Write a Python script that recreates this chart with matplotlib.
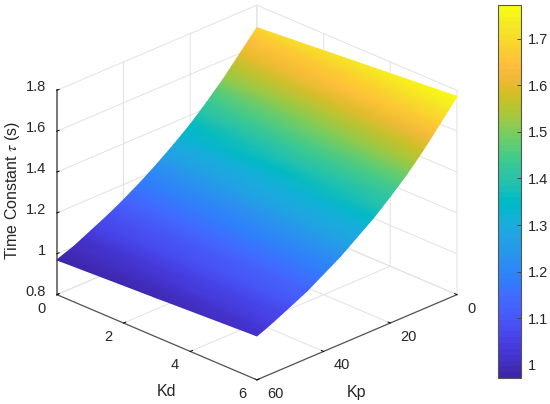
import matplotlib
matplotlib.use('Agg')
import matplotlib.pyplot as plt
import numpy as np
from matplotlib.cm import ScalarMappable
from matplotlib.colors import ListedColormap, Normalize
from mpl_toolkits.mplot3d import proj3d

plt.rcParams['font.family'] = ['Liberation Sans', 'DejaVu Sans']
plt.rcParams['mathtext.fontset'] = 'stix'

# valori
kp = [0, 2.5, 5, 7.5, 10, 12.5, 15, 17.5, 20, 22.5, 25, 27.5, 30, 32.5, 35, 37.5,
      40, 42.5, 45, 47.5, 50, 52.5, 55, 57.5, 60]
kd = [0, 3, 6]
tau_kd0 = [1.69, 1.645, 1.60, 1.555, 1.51, 1.47, 1.43, 1.392, 1.355, 1.322, 1.29, 1.26, 1.23,
           1.202, 1.175, 1.15, 1.125, 1.102, 1.08, 1.06, 1.04, 1.02, 1.00, 0.985, 0.97]
tau_kd3 = [1.73, 1.683, 1.637, 1.591, 1.545, 1.503, 1.462, 1.424, 1.387, 1.353, 1.32, 1.29, 1.26,
           1.231, 1.202, 1.177, 1.152, 1.128, 1.105, 1.085, 1.065, 1.045, 1.025, 1.008, 0.992]
tau_kd6 = [1.77, 1.722, 1.675, 1.627, 1.58, 1.537, 1.495, 1.457, 1.42, 1.385, 1.35, 1.32, 1.29,
           1.26, 1.23, 1.205, 1.18, 1.155, 1.13, 1.11, 1.09, 1.07, 1.05, 1.032, 1.015]
kd_ticks = [0, 2, 4, 6]
kp_ticks = [0, 20, 40, 60]
tau_ticks = [0.8, 1, 1.2, 1.4, 1.6, 1.8]
tau_labels = ['0.8', '1', '1.2', '1.4', '1.6', '1.8']
cbar_ticks = [1, 1.1, 1.2, 1.3, 1.4, 1.5, 1.6, 1.7]
cbar_labels = ['1', '1.1', '1.2', '1.3', '1.4', '1.5', '1.6', '1.7']

# colormap parula
parula = ListedColormap([
    (.2422, .1504, .6603), (.2504, .1650, .7076), (.2578, .1818, .7511), (.2647, .1978, .7952),
    (.2706, .2147, .8364), (.2751, .2342, .8710), (.2783, .2559, .8991), (.2803, .2782, .9221),
    (.2813, .3006, .9414), (.2810, .3228, .9579), (.2795, .3447, .9717), (.2760, .3667, .9829),
    (.2699, .3892, .9906), (.2602, .4123, .9952), (.2440, .4358, .9988), (.2206, .4603, .9973),
    (.1963, .4847, .9892), (.1834, .5074, .9798), (.1786, .5289, .9682), (.1764, .5499, .9520),
    (.1687, .5703, .9359), (.1540, .5902, .9218), (.1460, .6091, .9079), (.1380, .6276, .8973),
    (.1248, .6459, .8883), (.1113, .6635, .8763), (.0952, .6798, .8598), (.0689, .6948, .8394),
    (.0297, .7082, .8163), (.0036, .7203, .7917), (.0067, .7312, .7660), (.0433, .7411, .7394),
    (.0964, .7500, .7120), (.1408, .7584, .6842), (.1717, .7670, .6554), (.1938, .7758, .6251),
    (.2161, .7843, .5923), (.2470, .7918, .5567), (.2906, .7973, .5188), (.3406, .8008, .4789),
    (.3909, .8029, .4354), (.4456, .8024, .3909), (.5044, .7993, .3480), (.5616, .7942, .3045),
    (.6174, .7876, .2612), (.6720, .7793, .2227), (.7242, .7698, .1910), (.7738, .7598, .1646),
    (.8203, .7498, .1535), (.8634, .7406, .1596), (.9035, .7330, .1774), (.9393, .7288, .2100),
    (.9728, .7298, .2394), (.9956, .7434, .2371), (.9970, .7659, .2199), (.9952, .7893, .2028),
    (.9892, .8136, .1885), (.9786, .8386, .1766), (.9676, .8639, .1643), (.9610, .8890, .1537),
    (.9597, .9135, .1423), (.9628, .9373, .1265), (.9691, .9606, .1064), (.9769, .9839, .0805)])
norm = Normalize(0.972, 1.772)

W, H = 550, 404
TESTO = '#262626'
fig = plt.figure(figsize=(W / 100, H / 100), dpi=100)

# assi 3D centrati sul box del riferimento
lato = 400
cx, cy = 251.5, 404 - 197.9
ax = fig.add_axes([(cx - lato / 2) / W, (cy - lato / 2) / H, lato / W, lato / H], projection='3d')
ax.set_proj_type('ortho')
ax.view_init(elev=25.2, azim=45)
ax.set_box_aspect((1, 1, 0.798), zoom=1.115)
ax.patch.set_alpha(0)
ax.set_xlim(0, 60)
ax.set_ylim(0, 6)
ax.set_zlim(0.8, 1.8)
ax.set_xticks(kp_ticks)
ax.set_yticks(kd_ticks)
ax.set_zticks(tau_ticks)
ax.set_xticklabels([])
ax.set_yticklabels([])
ax.set_zticklabels([])
for asse in (ax.xaxis, ax.yaxis, ax.zaxis):
    asse.set_pane_color((1, 1, 1, 0))
    asse.pane.set_edgecolor('#e0e0e0')
    asse.line.set_color('#555555')
    asse.line.set_linewidth(0.9)
    asse._axinfo['grid']['color'] = '#e2e2e2'
    asse._axinfo['grid']['linewidth'] = 0.7
    asse._axinfo['tick']['color'] = '#555555'
    asse._axinfo['tick']['linewidth'] = {True: 0.7, False: 0.7}
    asse._axinfo['tick']['inward_factor'] = 0.0
    asse._axinfo['tick']['outward_factor'] = 0.14
ax.zaxis.line.set_color('#777777')
ax.zaxis.line.set_linewidth(1.4)
fig.canvas.draw()


def in_pixel(a, b, c):
    # punto 3D -> pixel della figura
    xs, ys, _ = proj3d.proj_transform(np.ravel(a), np.ravel(b), np.ravel(c), ax.get_proj())
    return ax.transData.transform(np.column_stack([xs, ys]))


# superficie: vertici proiettati con la proiezione degli assi 3D, colori gouraud
KP, KD = np.meshgrid(kp, kd)
TAU = np.array([tau_kd0, tau_kd3, tau_kd6])
pix = in_pixel(KP, KD, TAU)
PX = pix[:, 0].reshape(KP.shape)
PY = pix[:, 1].reshape(KP.shape)

over = fig.add_axes([0, 0, 1, 1])
over.set_xlim(0, W)
over.set_ylim(0, H)
over.axis('off')
over.pcolormesh(PX, PY, TAU, shading='gouraud', cmap=parula, norm=norm)


def etichetta(testo, p, dx, dy, ha):
    over.annotate(testo, p, xytext=(dx, dy), textcoords='offset pixels', ha=ha, va='center',
                  fontsize=10.5, color=TESTO, annotation_clip=False)


# etichette dei tick
for v in kd_ticks:
    etichetta(str(v), in_pixel(60, v, 0.8)[0], -11, -14, 'right')
for v in kp_ticks:
    etichetta(str(v), in_pixel(v, 6, 0.8)[0], 10, -14, 'left')
for v, s in zip(tau_ticks, tau_labels):
    etichetta(s, in_pixel(60, 0, v)[0], -11, 3, 'right')

fig.text(166 / W, 1 - 392 / H, 'Kd', fontsize=11.5, color=TESTO, ha='center', va='center')
fig.text(356 / W, 1 - 392 / H, 'Kp', fontsize=11.5, color=TESTO, ha='center', va='center')
fig.text(13 / W, 1 - 190 / H, r'Time Constant $\tau$ (s)', fontsize=11.5, color=TESTO,
         rotation=90, ha='center', va='center')

# colorbar
cax = fig.add_axes([498 / W, 1 - 378 / H, 23 / W, 373 / H])
cb = fig.colorbar(ScalarMappable(norm=norm, cmap=parula), cax=cax)
cb.set_ticks(cbar_ticks)
cb.set_ticklabels(cbar_labels)
cb.ax.tick_params(direction='in', length=3, width=0.7, color='#444444', labelsize=10.5,
                  labelcolor=TESTO, pad=5)
cb.outline.set_edgecolor('#555555')
cb.outline.set_linewidth(0.8)

plt.savefig('out.png', dpi=100)
